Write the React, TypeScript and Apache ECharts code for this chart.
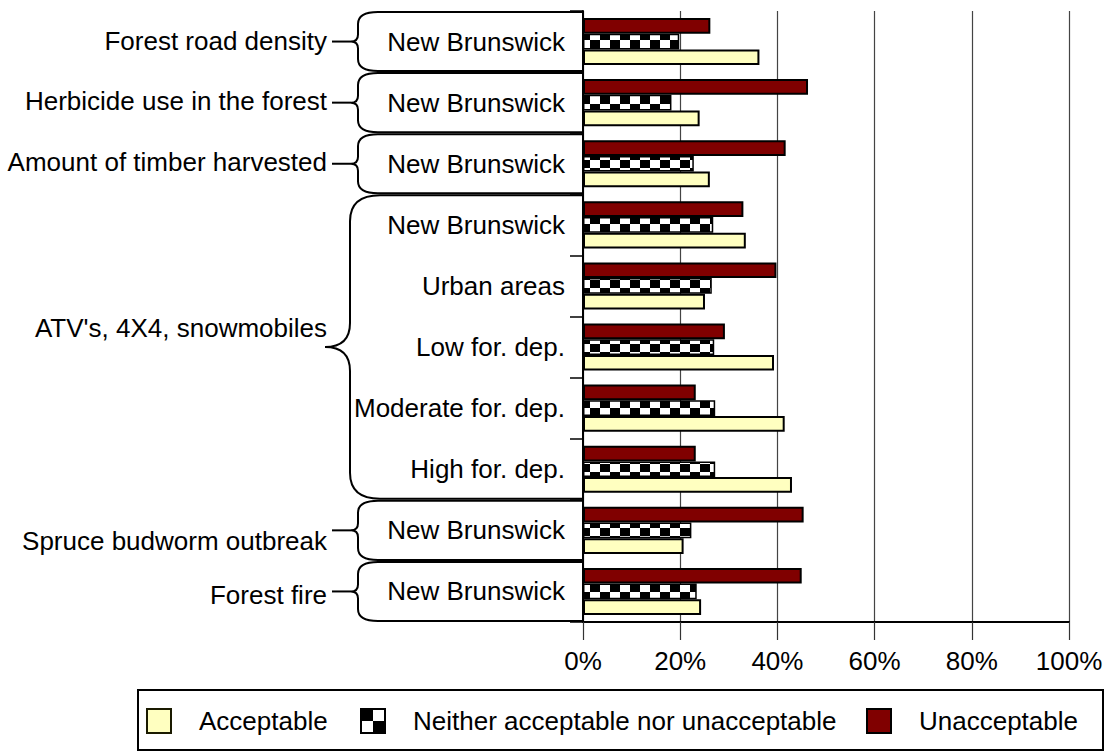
import React, { useEffect, useRef } from 'react';
import * as echarts from 'echarts';

// ---------- data ----------
const subCategories = [
  'New Brunswick',
  'New Brunswick',
  'New Brunswick',
  'New Brunswick',
  'Urban areas',
  'Low for. dep.',
  'Moderate for. dep.',
  'High for. dep.',
  'New Brunswick',
  'New Brunswick',
];
const groupLabels = [
  'Forest road density',
  'Herbicide use in the forest',
  'Amount of timber harvested',
  "ATV's, 4X4, snowmobiles",
  'Spruce budworm outbreak',
  'Forest fire',
];
const groupStart = [0, 1, 2, 3, 8, 9];
const groupEnd = [0, 1, 2, 7, 8, 9];

const seriesNames = ['Acceptable', 'Neither acceptable nor unacceptable', 'Unacceptable'];
const acceptable = [36.3, 24.0, 26.1, 33.5, 25.1, 39.3, 41.5, 43.0, 20.7, 24.3];
const neither = [19.8, 18.2, 22.8, 26.8, 26.5, 27.0, 27.2, 27.2, 22.3, 23.4];
const unacceptable = [26.2, 46.3, 41.7, 33.0, 39.8, 29.2, 23.2, 23.2, 45.4, 45.0];

const xMin = 0;
const xMax = 100;
const xStep = 20;

// ---------- layout / style ----------
const FONT = '"Liberation Sans", Arial, Helvetica, sans-serif';
const GROUP_LABEL_DY = [-1, -1.3, -1.7, -19, 10.5, 3.5];
const COLOR_ACC = '#FFFFC0';
const COLOR_UNACC = '#800000';

const checkerBar =
  'data:image/svg+xml;charset=utf-8,' +
  encodeURIComponent(
    '<svg xmlns="http://www.w3.org/2000/svg" width="20" height="16">' +
      '<rect width="20" height="16" fill="#ffffff"/>' +
      '<rect x="0" y="0" width="10" height="8" fill="#000000"/>' +
      '<rect x="10" y="8" width="10" height="8" fill="#000000"/>' +
      '</svg>'
  );
const checkerIcon =
  'data:image/svg+xml;charset=utf-8,' +
  encodeURIComponent(
    '<svg xmlns="http://www.w3.org/2000/svg" width="24" height="24">' +
      '<rect width="24" height="24" fill="#ffffff"/>' +
      '<rect x="0" y="0" width="12" height="12" fill="#000000"/>' +
      '<rect x="12" y="12" width="12" height="12" fill="#000000"/>' +
      '</svg>'
  );

const Brace = (echarts.graphic as any).extendShape({
  type: 'brace',
  shape: { xv: 0, xt: 0, xc: 0, xe: 0, top: 0, bottom: 0, mid: 0, r: 12, r2: 7 },
  buildPath(ctx: any, s: any) {
    ctx.moveTo(s.xe, s.top);
    ctx.lineTo(s.xc, s.top);
    ctx.quadraticCurveTo(s.xv, s.top, s.xv, s.top + s.r);
    ctx.lineTo(s.xv, s.mid - s.r2);
    ctx.quadraticCurveTo(s.xv, s.mid, s.xt, s.mid);
    ctx.moveTo(s.xt, s.mid);
    ctx.quadraticCurveTo(s.xv, s.mid, s.xv, s.mid + s.r2);
    ctx.lineTo(s.xv, s.bottom - s.r);
    ctx.quadraticCurveTo(s.xv, s.bottom, s.xc, s.bottom);
    ctx.lineTo(s.xe, s.bottom);
  },
});
(echarts.graphic as any).registerShape('brace', Brace);

export default function App() {
  const ref = useRef<HTMLDivElement>(null);

  useEffect(() => {
    document.body.style.margin = '0';
    const chart = echarts.init(ref.current as HTMLDivElement, null, { renderer: 'svg' });

    const barW = 15.7;
    const legendCommon = {
      top: 708,
      itemWidth: 24,
      itemHeight: 24,
      padding: 0,
      icon: 'rect',
      selectedMode: false,
      textStyle: { fontSize: 26, color: '#000', fontFamily: FONT, padding: [0, 0, 0, 23] },
    };

    chart.setOption({
      animation: false,
      backgroundColor: '#ffffff',
      grid: { left: 583, right: 41, top: 11, bottom: 130, containLabel: false },
      xAxis: {
        type: 'value',
        min: xMin,
        max: xMax,
        interval: xStep,
        axisLabel: {
          formatter: '{value}%',
          fontSize: 26,
          color: '#000',
          fontFamily: FONT,
          margin: 26,
        },
        axisLine: { show: true, lineStyle: { color: '#000', width: 2 } },
        axisTick: { show: true, length: 18, lineStyle: { color: '#333', width: 1.2 } },
        splitLine: { show: true, lineStyle: { color: '#444', width: 1.2 } },
      },
      yAxis: {
        type: 'category',
        inverse: true,
        data: subCategories,
        axisLine: { show: true, lineStyle: { color: '#000', width: 2 } },
        axisTick: { show: true, length: 13, lineStyle: { color: '#000', width: 1.5 } },
        axisLabel: { fontSize: 26, color: '#000', fontFamily: FONT, margin: 18 },
        splitLine: { show: false },
      },
      legend: [
        {
          ...legendCommon,
          left: 146,
          data: [
            { name: seriesNames[0], itemStyle: { color: COLOR_ACC, borderColor: '#1a1a00', borderWidth: 2 } },
          ],
        },
        {
          ...legendCommon,
          left: 360,
          data: [
            {
              name: seriesNames[1],
              itemStyle: {
                color: { image: checkerIcon, repeat: 'repeat', imageWidth: 24, imageHeight: 24 },
                borderColor: '#000',
                borderWidth: 2,
              },
            },
          ],
        },
        {
          ...legendCommon,
          left: 866,
          data: [
            { name: seriesNames[2], itemStyle: { color: COLOR_UNACC, borderColor: '#000', borderWidth: 2 } },
          ],
        },
      ],
      series: [
        {
          name: seriesNames[2],
          type: 'bar',
          data: unacceptable,
          barWidth: barW,
          barGap: '0%',
          itemStyle: { color: COLOR_UNACC, borderColor: '#000', borderWidth: 2 },
        },
        {
          name: seriesNames[1],
          type: 'bar',
          data: neither,
          barWidth: barW,
          barGap: '0%',
          itemStyle: {
            color: { image: checkerBar, repeat: 'repeat', imageWidth: 20, imageHeight: 16 },
            borderColor: '#000',
            borderWidth: 1.5,
          },
        },
        {
          name: seriesNames[0],
          type: 'bar',
          data: acceptable,
          barWidth: barW,
          barGap: '0%',
          itemStyle: { color: COLOR_ACC, borderColor: '#000', borderWidth: 2 },
        },
      ],
    });

    // positions from the axes
    const centers = subCategories.map((_, i) => (chart.convertToPixel({ gridIndex: 0 }, [0, i]) as number[])[1]);
    const band = centers[1] - centers[0];
    const x0 = (chart.convertToPixel({ gridIndex: 0 }, [0, 0]) as number[])[0];

    const neitherData = neither.map((v, i) => ({
      value: v,
      itemStyle: {
        color: {
          image: checkerBar,
          repeat: 'repeat',
          imageWidth: 20,
          imageHeight: 16,
          x: x0,
          y: centers[i] - 8,
        },
      },
    }));

    const graphics: any[] = [];
    groupLabels.forEach((label, g) => {
      const top = centers[groupStart[g]] - band / 2;
      const bottom = centers[groupEnd[g]] + band / 2;
      const mid = (top + bottom) / 2;
      const multi = groupEnd[g] > groupStart[g];
      graphics.push({
        type: 'brace',
        silent: true,
        shape: {
          xv: multi ? 350 : 358,
          xt: multi ? 325 : 351,
          xc: multi ? 380 : 378,
          xe: x0 - 1,
          top: top + 1,
          bottom: bottom - 1,
          mid,
          r: multi ? 26 : 12,
          r2: multi ? 24 : 7,
        },
        style: { fill: 'none', stroke: '#000', lineWidth: 2 },
      });
      if (!multi) {
        graphics.push({
          type: 'line',
          silent: true,
          shape: { x1: 332, y1: mid, x2: 351, y2: mid },
          style: { stroke: '#000', lineWidth: 2 },
        });
      }
      graphics.push({
        type: 'text',
        silent: true,
        x: 327,
        y: mid + GROUP_LABEL_DY[g],
        style: {
          text: label,
          fill: '#000',
          font: '26px ' + FONT,
          align: 'right',
          verticalAlign: 'middle',
          textAlign: 'right',
          textVerticalAlign: 'middle',
        },
      });
    });
    graphics.push({
      type: 'rect',
      silent: true,
      shape: { x: 138, y: 690, width: 965, height: 60 },
      style: { fill: 'none', stroke: '#000', lineWidth: 2 },
    });

    chart.setOption({
      series: [{}, { data: neitherData }, {}],
      graphic: graphics,
    });

    return () => {
      chart.dispose();
    };
  }, []);

  return <div ref={ref} style={{ width: 1110, height: 752 }} />;
}
